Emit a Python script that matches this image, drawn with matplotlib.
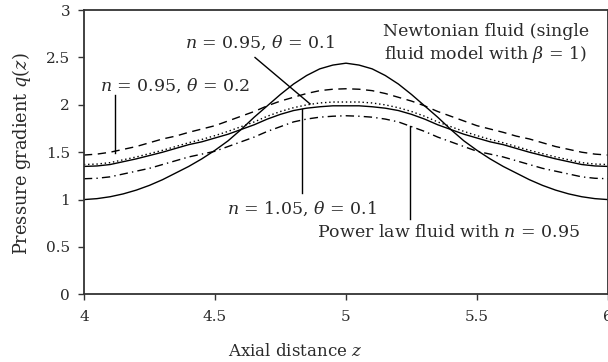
import numpy as np
import matplotlib.pyplot as plt

plt.rcParams['font.family'] = ['DejaVu Serif']
plt.rcParams['mathtext.fontset'] = 'dejavuserif'

# axial positions
z = [4.00, 4.05, 4.10, 4.15, 4.20, 4.25, 4.30, 4.35, 4.40, 4.45, 4.50,
     4.55, 4.60, 4.65, 4.70, 4.75, 4.80, 4.85, 4.90, 4.95, 5.00,
     5.05, 5.10, 5.15, 5.20, 5.25, 5.30, 5.35, 5.40, 5.45, 5.50,
     5.55, 5.60, 5.65, 5.70, 5.75, 5.80, 5.85, 5.90, 5.95, 6.00]

# Newtonian fluid (single fluid model, beta = 1)
q_newt = [1.00, 1.01, 1.03, 1.06, 1.10, 1.15, 1.21, 1.28, 1.35, 1.43, 1.52,
          1.62, 1.74, 1.87, 1.99, 2.11, 2.22, 2.31, 2.38, 2.42, 2.44,
          2.42, 2.38, 2.31, 2.22, 2.11, 1.99, 1.87, 1.74, 1.62, 1.52,
          1.43, 1.35, 1.28, 1.21, 1.15, 1.10, 1.06, 1.03, 1.01, 1.00]

# n = 0.95, theta = 0.2 (dashed)
q_n095_t02 = [1.47, 1.48, 1.50, 1.53, 1.56, 1.60, 1.64, 1.67, 1.71, 1.745, 1.78,
              1.83, 1.88, 1.93, 1.99, 2.04, 2.08, 2.12, 2.15, 2.165, 2.17,
              2.165, 2.15, 2.12, 2.08, 2.04, 1.99, 1.93, 1.88, 1.83, 1.78,
              1.745, 1.71, 1.67, 1.64, 1.60, 1.56, 1.53, 1.50, 1.48, 1.47]

# n = 0.95, theta = 0.1 (dotted)
q_n095_t01 = [1.37, 1.375, 1.39, 1.42, 1.45, 1.485, 1.52, 1.56, 1.60, 1.635, 1.675,
              1.72, 1.77, 1.82, 1.88, 1.93, 1.97, 2.00, 2.02, 2.03, 2.03,
              2.03, 2.02, 2.00, 1.97, 1.93, 1.88, 1.82, 1.77, 1.72, 1.675,
              1.635, 1.60, 1.56, 1.52, 1.485, 1.45, 1.42, 1.39, 1.375, 1.37]

# n = 1.05, theta = 0.1 (solid)
q_n105_t01 = [1.35, 1.355, 1.37, 1.40, 1.43, 1.465, 1.50, 1.54, 1.58, 1.61, 1.65,
              1.69, 1.74, 1.79, 1.85, 1.90, 1.94, 1.965, 1.98, 1.99, 1.99,
              1.99, 1.98, 1.965, 1.94, 1.90, 1.85, 1.79, 1.74, 1.69, 1.65,
              1.61, 1.58, 1.54, 1.50, 1.465, 1.43, 1.40, 1.37, 1.355, 1.35]

# power law fluid with n = 0.95 (dash-dot)
q_power = [1.22, 1.225, 1.24, 1.27, 1.30, 1.33, 1.37, 1.41, 1.45, 1.48, 1.51,
           1.56, 1.61, 1.66, 1.72, 1.77, 1.82, 1.85, 1.87, 1.88, 1.885,
           1.88, 1.87, 1.85, 1.82, 1.77, 1.72, 1.66, 1.61, 1.56, 1.51,
           1.48, 1.45, 1.41, 1.37, 1.33, 1.30, 1.27, 1.24, 1.225, 1.22]

xticks = [4, 4.5, 5, 5.5, 6]
xtick_labels = ['4', '4.5', '5', '5.5', '6']
yticks = [0, 0.5, 1, 1.5, 2, 2.5, 3]
ytick_labels = ['0', '0.5', '1', '1.5', '2', '2.5', '3']

fig = plt.figure(figsize=(6.08, 3.62), dpi=100)
ax = fig.add_axes([0.138, 0.187, 0.862, 0.785])

lw = 1.0
ax.plot(z, q_newt, color='black', lw=lw)
ax.plot(z, q_n095_t02, color='black', lw=lw, dashes=(6, 4))
ax.plot(z, q_n095_t01, color='black', lw=lw, dashes=(1, 2))
ax.plot(z, q_n105_t01, color='black', lw=lw)
ax.plot(z, q_power, color='black', lw=lw, dashes=(6, 3, 1, 3))

ax.set_xlim(4, 6)
ax.set_ylim(0, 3)
ax.set_xticks(xticks)
ax.set_xticklabels(xtick_labels)
ax.set_yticks(yticks)
ax.set_yticklabels(ytick_labels)
ax.tick_params(direction='out', length=4, width=1.0, labelsize=11, color='#333333',
               labelcolor='#2a2a2a')
ax.tick_params(axis='x', pad=7)
ax.tick_params(axis='y', pad=6)
for side in ['left', 'bottom', 'top', 'right']:
    ax.spines[side].set_linewidth(1.3)
    ax.spines[side].set_color('#333333')

ax.set_xlabel('Axial distance $z$', fontsize=12, color='#2a2a2a')
ax.xaxis.set_label_coords(0.403, -0.171)
ax.set_ylabel('Pressure gradient $q(z)$', fontsize=12.8, color='#2a2a2a')
ax.yaxis.set_label_coords(-0.098, 0.495)

fs = 12.5
tc = '#2a2a2a'
# labels with leader lines
ax.text(4.061, 2.20, r'$n$ = 0.95, $\theta$ = 0.2', fontsize=fs, va='center', ha='left', color=tc)
ax.plot([4.118, 4.118], [2.10, 1.49], color='black', lw=1.0)

ax.text(4.385, 2.66, r'$n$ = 0.95, $\theta$ = 0.1', fontsize=fs, va='center', ha='left', color=tc)
ax.plot([4.653, 4.863], [2.50, 2.01], color='black', lw=1.0)

ax.text(5.534, 2.64, 'Newtonian fluid (single\nfluid model with $\\beta$ = 1)',
        fontsize=fs, va='center', ha='center', linespacing=1.25, color=tc)

ax.text(4.546, 0.90, r'$n$ = 1.05, $\theta$ = 0.1', fontsize=fs, va='center', ha='left', color=tc)
ax.plot([4.832, 4.832], [1.96, 1.07], color='black', lw=1.0)

ax.text(4.889, 0.657, r'Power law fluid with $n$ = 0.95', fontsize=fs, va='center', ha='left', color=tc)
ax.plot([5.244, 5.244], [1.775, 0.79], color='black', lw=1.0)

fig.savefig('out.png', dpi=100)
